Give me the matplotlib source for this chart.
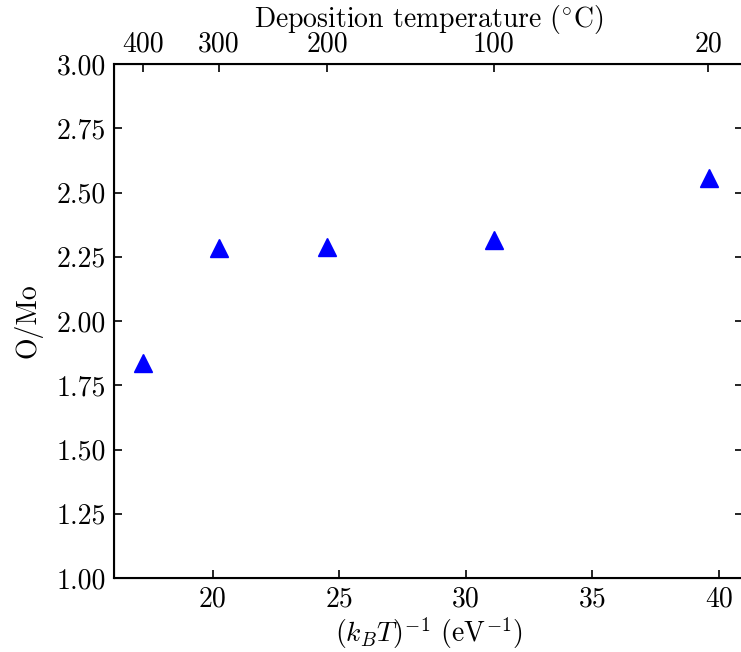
import matplotlib
matplotlib.use("Agg")
import matplotlib.pyplot as plt

plt.rcParams['font.family'] = ['cmr10', 'DejaVu Serif']
plt.rcParams['mathtext.fontset'] = 'cm'
plt.rcParams['axes.formatter.use_mathtext'] = True
plt.rcParams['axes.unicode_minus'] = False

# Data
inv_kT = [17.24, 20.25, 24.53, 31.10, 39.59]   # (k_B T)^-1, eV^-1
o_mo = [1.835, 2.284, 2.286, 2.315, 2.556]
top_temps_C = [400, 300, 200, 100, 20]
x_ticks = [20, 25, 30, 35, 40]
y_ticks = [1.00, 1.25, 1.50, 1.75, 2.00, 2.25, 2.50, 2.75, 3.00]

KB = 8.617333e-5


def temp_to_inv_kT(t):
    return 1.0 / (KB * (t + 273.15))


fs = 20
W, H = 741, 652
fig = plt.figure(figsize=(W / 100, H / 100), dpi=100)
left, right, top, bottom = 114, 743, 64, 578
ax = fig.add_axes([left / W, 1 - bottom / H, (right - left) / W, (bottom - top) / H])

ax.plot(inv_kT, o_mo, linestyle='none', marker='^', color='blue', markersize=12.5)

ax.set_xlim(16.1, 40.95)
ax.set_ylim(1.0, 3.0)
ax.set_xticks(x_ticks)
ax.set_yticks(y_ticks)
ax.set_yticklabels([f"{v:.2f}" for v in y_ticks])
ax.set_xticklabels([str(v) for v in x_ticks])
ax.tick_params(direction='in', length=6, width=1.2, labelsize=fs, top=False, right=True, pad=6)
for s in ax.spines.values():
    s.set_linewidth(1.5)

ax.set_xlabel(r"$(k_BT)^{-1}$ (eV$^{-1}$)", fontsize=fs, labelpad=2)
ax.set_ylabel("O/Mo", fontsize=fs, labelpad=10)

ax2 = ax.twiny()
ax2.set_xlim(ax.get_xlim())
ax2.set_xticks([temp_to_inv_kT(t) for t in top_temps_C])
ax2.set_xticklabels([str(t) for t in top_temps_C])
ax2.tick_params(direction='in', length=6, width=1.2, labelsize=fs, pad=5)
ax2.set_xlabel(r"Deposition temperature ($^{\circ}$C)", fontsize=fs, labelpad=3)

fig.savefig("out.png", dpi=100)
